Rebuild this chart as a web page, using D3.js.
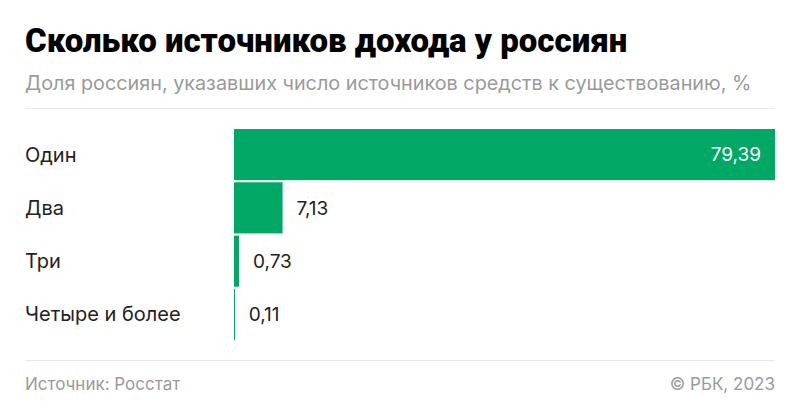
<!DOCTYPE html>
<html>
<head>
<meta charset="utf-8">
<script src="https://cdn.jsdelivr.net/npm/d3@7"></script>
<style>
  body { margin: 0; background: #fff; }
  svg { display: block; font-family: Inter, Roboto, sans-serif; }
</style>
</head>
<body>
<div id="chart"></div>
<script>
const categories = ['Один', 'Два', 'Три', 'Четыре и более'];
const values = [79.39, 7.13, 0.73, 0.11];
const valueLabels = ['79,39', '7,13', '0,73', '0,11'];

const w = 800;
const h = 417;
const left = 25;
const right = 775;
const barLeft = 234;

const svg = d3.select('#chart')
              .append('svg')
              .attr('width', w)
              .attr('height', h);

svg.append('text')
   .attr('x', left)
   .attr('y', 52)
   .attr('font-family', 'Roboto')
   .attr('font-weight', 900)
   .attr('font-size', 33)
   .attr('fill', '#000')
   .text('Сколько источников дохода у россиян');

svg.append('text')
   .attr('x', left)
   .attr('y', 90)
   .attr('font-size', 19.8)
   .attr('fill', '#9a9a9a')
   .text('Доля россиян, указавших число источников средств к существованию, %');

svg.append('line')
   .attr('x1', left).attr('x2', right)
   .attr('y1', 108.5).attr('y2', 108.5)
   .attr('stroke', '#e6e6e6')
   .attr('stroke-width', 1);

const xScale = d3.scaleLinear()
                 .domain([0, d3.max(values)])
                 .range([barLeft, right]);
const yScale = d3.scaleBand()
                 .domain(categories)
                 .range([129, 340])
                 .paddingInner(0.04);

const rows = svg.selectAll('g.row')
                .data(categories)
                .enter()
                .append('g')
                .attr('class', 'row');

rows.append('rect')
    .attr('x', xScale(0))
    .attr('y', (d) => yScale(d))
    .attr('width', (d, i) => Math.max(xScale(values[i]) - xScale(0), 1))
    .attr('height', yScale.bandwidth())
    .attr('fill', '#00a865');

rows.append('text')
    .attr('x', left)
    .attr('y', (d) => yScale(d) + yScale.bandwidth() / 2)
    .attr('dy', '0.35em')
    .attr('font-size', 20)
    .attr('fill', '#222')
    .text((d) => d);

rows.append('text')
    .attr('x', (d, i) => values[i] > 40 ? xScale(values[i]) - 14 : xScale(values[i]) + 14)
    .attr('y', (d) => yScale(d) + yScale.bandwidth() / 2)
    .attr('dy', '0.35em')
    .attr('text-anchor', (d, i) => values[i] > 40 ? 'end' : 'start')
    .attr('font-size', 19)
    .attr('fill', (d, i) => values[i] > 40 ? '#fff' : '#222')
    .text((d, i) => valueLabels[i]);

svg.append('line')
   .attr('x1', left).attr('x2', right)
   .attr('y1', 360.5).attr('y2', 360.5)
   .attr('stroke', '#e6e6e6')
   .attr('stroke-width', 1);

svg.append('text')
   .attr('x', left)
   .attr('y', 390)
   .attr('font-size', 17)
   .attr('fill', '#9a9a9a')
   .text('Источник: Росстат');

svg.append('text')
   .attr('x', right)
   .attr('y', 390)
   .attr('text-anchor', 'end')
   .attr('font-size', 17)
   .attr('fill', '#9a9a9a')
   .text('© РБК, 2023');
</script>
</body>
</html>
